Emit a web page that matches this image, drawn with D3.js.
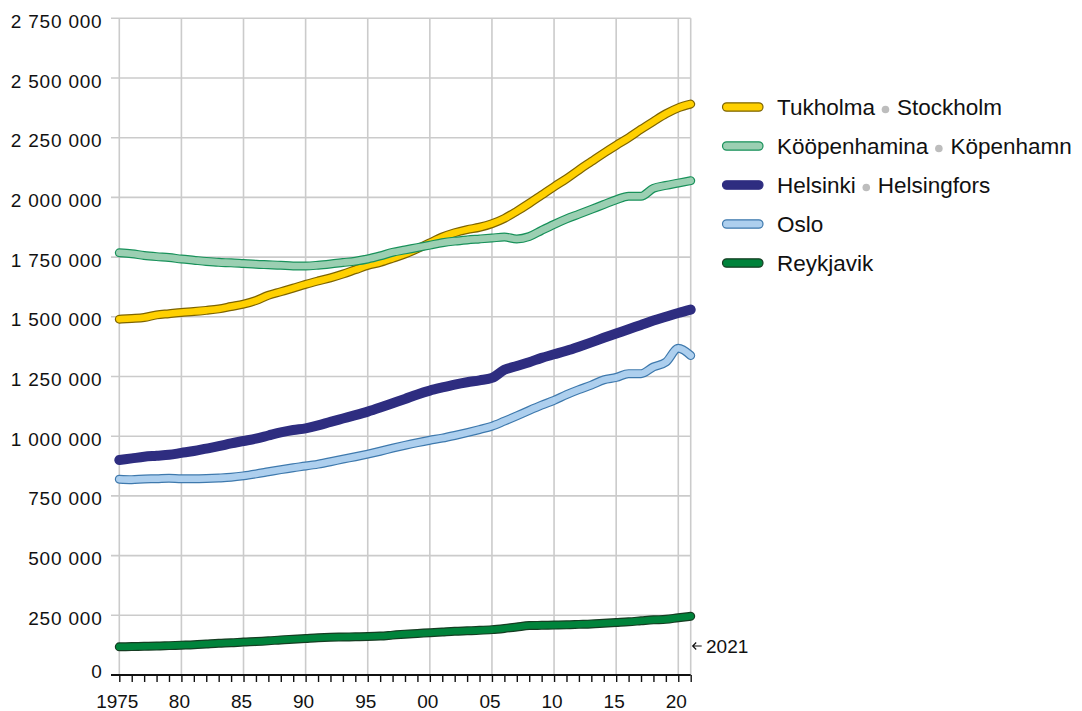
<!DOCTYPE html>
<html><head><meta charset="utf-8">
<script src="https://cdn.jsdelivr.net/npm/d3@7"></script>
<style>
body{margin:0;background:#fff}
svg text{font-family:"Liberation Sans",Arial,sans-serif;fill:#111}
</style>
</head><body>
<svg id="c" width="1082" height="711"></svg>
<script>
// ---------- DATA ----------
const years = [1975,1976,1977,1978,1979,1980,1981,1982,1983,1984,1985,1986,1987,1988,1989,1990,1991,1992,1993,1994,1995,1996,1997,1998,1999,2000,2001,2002,2003,2004,2005,2006,2007,2008,2009,2010,2011,2012,2013,2014,2015,2016,2017,2018,2019,2020,2021];
const stockholm = [1490000,1493000,1497000,1508000,1513000,1518000,1522000,1527000,1533000,1543000,1553000,1568000,1590000,1605000,1620000,1636000,1650000,1663000,1679000,1697000,1715000,1728000,1745000,1763000,1785000,1810000,1834000,1852000,1865000,1875000,1890000,1912000,1942000,1975000,2010000,2045000,2078000,2115000,2150000,2185000,2218000,2250000,2285000,2318000,2350000,2375000,2391000];
const copenhagen = [1768000,1764000,1757000,1752000,1748000,1742000,1737000,1732000,1728000,1726000,1723000,1720000,1718000,1716000,1713000,1713000,1716000,1721000,1727000,1733000,1742000,1755000,1770000,1780000,1790000,1800000,1810000,1817000,1822000,1826000,1830000,1834000,1826000,1836000,1862000,1887000,1910000,1930000,1950000,1970000,1990000,2005000,2005000,2038000,2050000,2060000,2070000];
const helsinki = [900000,907000,914000,918000,922000,930000,938000,948000,958000,970000,980000,990000,1003000,1016000,1026000,1033000,1045000,1060000,1074000,1088000,1103000,1120000,1138000,1156000,1175000,1191000,1204000,1216000,1226000,1234000,1244000,1278000,1294000,1310000,1328000,1343000,1358000,1375000,1393000,1412000,1430000,1448000,1466000,1484000,1500000,1516000,1530000];
const oslo = [820000,818000,821000,822000,824000,822000,822000,823000,825000,828000,834000,842000,851000,860000,868000,875000,883000,893000,904000,914000,925000,937000,950000,962000,973000,983000,992000,1003000,1015000,1028000,1042000,1063000,1085000,1108000,1130000,1150000,1174000,1195000,1214000,1236000,1246000,1262000,1262000,1290000,1310000,1368000,1338000];
const reykjavik = [118000,119000,120000,121000,123000,125000,127000,130000,133000,135000,138000,140000,143000,147000,150000,153000,156000,158000,159000,160000,161000,163000,167000,171000,174000,177000,180000,183000,185000,187000,190000,195000,201000,207000,208000,209000,210000,212000,214000,217000,220000,223000,227000,231000,233000,240000,246000];
const seriesLabels = [["Tukholma","Stockholm"],["Kööpenhamina","Köpenhamn"],["Helsinki","Helsingfors"],["Oslo"],["Reykjavik"]];
const yTickValues = [0,250000,500000,750000,1000000,1250000,1500000,1750000,2000000,2250000,2500000,2750000];
const xTickYears = [1975,1980,1985,1990,1995,2000,2005,2010,2015,2020];
const xTickLabels = ["1975","80","85","90","95","00","05","10","15","20"];
const lastYearLabel = "2021";

// ---------- STYLE ----------
const styles = [
  {fill:"#FFD000", edge:"#7d6400", w:9},
  {fill:"#9BCFB2", edge:"#18915a", w:9},
  {fill:"#2E2D80", edge:"#2E2D80", w:10},
  {fill:"#ADCFEE", edge:"#3e79ad", w:9},
  {fill:"#00833B", edge:"#153d22", w:9}
];
const seriesValues = [stockholm, copenhagen, helsinki, oslo, reykjavik];

const svg = d3.select("#c");
const x = d3.scaleLinear().domain([1975, 2021]).range([119.3, 690.7]);
const y = d3.scaleLinear().domain([0, 2750000]).range([675, 18.3]);
const fmt = v => d3.format(",")(v).replace(/,/g, " ");

// gridlines
const g = svg.append("g");
g.selectAll("line.v").data(xTickYears.concat([2021])).join("line")
  .attr("x1", d => x(d)).attr("x2", d => x(d))
  .attr("y1", y(2750000)).attr("y2", y(0))
  .attr("stroke", "#cbcbcb").attr("stroke-width", 1.6);
g.selectAll("line.h").data(yTickValues.filter(d => d > 0)).join("line")
  .attr("x1", 111).attr("x2", x(2021))
  .attr("y1", d => y(d)).attr("y2", d => y(d))
  .attr("stroke", "#cbcbcb").attr("stroke-width", 1.6);

// y labels
svg.append("g").selectAll("text").data(yTickValues).join("text")
  .attr("x", 102.5).attr("y", d => y(d) + (d === 0 ? 2.5 : 9.5))
  .attr("text-anchor", "end").attr("font-size", 19).attr("letter-spacing", 0.8)
  .text(d => fmt(d));

// x axis baseline and year ticks
const xAxis = d3.axisBottom(x).tickValues(years).tickSize(7).tickFormat("");
const ax = svg.append("g").attr("transform", `translate(0,${y(0)})`).call(xAxis);
ax.select(".domain").remove();
ax.selectAll(".tick line").attr("stroke", "#111").attr("stroke-width", 1.4);
svg.append("line").attr("x1", 111).attr("x2", x(2021)).attr("y1", y(0)).attr("y2", y(0))
  .attr("stroke", "#111").attr("stroke-width", 2.2);

svg.append("g").selectAll("text").data(xTickYears).join("text")
  .attr("x", (d, i) => x(d) - 2).attr("y", 708)
  .attr("text-anchor", "middle").attr("font-size", 19)
  .text((d, i) => xTickLabels[i]);

// 2021 annotation
const ay = 646;
const axs = x(2021) + 2;
svg.append("path")
  .attr("d", `M${axs + 9},${ay} L${axs},${ay} M${axs + 3.5},${ay - 3.5} L${axs},${ay} L${axs + 3.5},${ay + 3.5}`)
  .attr("fill", "none").attr("stroke", "#111").attr("stroke-width", 1.2);
svg.append("text").attr("x", 706).attr("y", ay + 7).attr("font-size", 19).text(lastYearLabel);

// lines
const line = d3.line().x((d, i) => x(years[i])).y(d => y(d)).curve(d3.curveMonotoneX);
const order = [4, 3, 2, 0, 1];
order.forEach(si => {
  const s = styles[si];
  const vals = seriesValues[si];
  svg.append("path").attr("d", line(vals)).attr("fill", "none")
    .attr("stroke", s.edge).attr("stroke-width", s.w)
    .attr("stroke-linecap", "round").attr("stroke-linejoin", "round");
  if (s.edge !== s.fill) {
    svg.append("path").attr("d", line(vals)).attr("fill", "none")
      .attr("stroke", s.fill).attr("stroke-width", s.w - 2.4)
      .attr("stroke-linecap", "round").attr("stroke-linejoin", "round");
  }
});

// legend
const lg = svg.append("g");
seriesLabels.forEach((names, i) => {
  const cy = 107 + i * 39;
  const s = styles[i];
  lg.append("rect").attr("x", 722.5).attr("y", cy - 4.2).attr("width", 40.5).attr("height", 8.4)
    .attr("rx", 4.2).attr("fill", s.fill).attr("stroke", s.edge).attr("stroke-width", 1.2);
  const t1 = lg.append("text").attr("x", 777).attr("y", cy + 7.5).attr("font-size", 22.5).text(names[0]);
  if (names[1]) {
    const w = t1.node().getComputedTextLength();
    lg.append("circle").attr("cx", 777 + w + 10.5).attr("cy", cy + 2.5).attr("r", 3.8).attr("fill", "#bdbdbd");
    lg.append("text").attr("x", 777 + w + 22).attr("y", cy + 7.5).attr("font-size", 22.5).text(names[1]);
  }
});
</script>
</body></html>
